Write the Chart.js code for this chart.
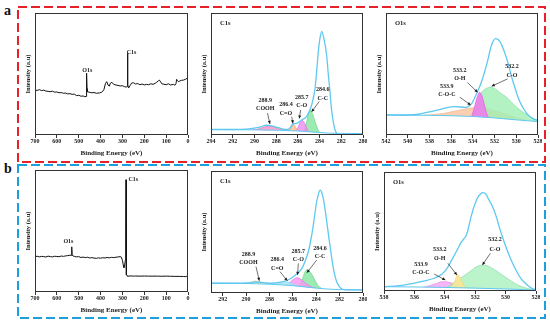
<!DOCTYPE html>
<html>
<head>
<title>XPS spectra</title>
<script src="https://cdn.jsdelivr.net/npm/chart.js"></script>
<style>
	body { margin: 0; width: 550px; height: 325px; position: relative; overflow: hidden; background: #fff; font-family: "Liberation Serif", serif; }
	canvas { position: absolute; }
	.tag { position: absolute; font-weight: bold; font-size: 14px; color: #111; }
</style>
</head>
<body>
<svg width="550" height="325" style="position:absolute;left:0;top:0">
	<rect x="18" y="7" width="527" height="155" fill="none" stroke="#e8202a" stroke-width="2" stroke-dasharray="9,4"/>
	<rect x="18" y="165" width="527" height="153" fill="none" stroke="#1ca0dc" stroke-width="2" stroke-dasharray="9,4"/>
</svg>
<div class="tag" style="left:4px;top:3px">a</div>
<div class="tag" style="left:4px;top:161px">b</div>
<canvas id="c1"></canvas>
<canvas id="c2"></canvas>
<canvas id="c3"></canvas>
<canvas id="c4"></canvas>
<canvas id="c5"></canvas>
<canvas id="c6"></canvas>
<script>
// survey spectra [binding energy, intensity %]
const surveyA = [[700,37],[690,36.5],[680,37.2],[670,36.4],[660,36.8],[650,36],[640,35.8],[631,35.5],[620,35.9],[610,35.1],[600,35.3],[590,34.6],[580,34.8],[570,34.2],[560,34.4],[550,33.7],[540,33.9],[530,33.3],[520,33.5],[509,32.2],[500,32.6],[490,31.8],[480,32],[472,31.4],[466,31.6],[464,50.6],[462,38],[461,35.5],[450,35],[440,34.6],[430,34.8],[418,34.2],[405,34.5],[395,35],[385,37],[378,42],[372,43.7],[366,41],[360,40],[355,42.5],[348,43.2],[340,41.5],[330,41],[320,40.6],[310,40.2],[300,40.4],[290,39.6],[282,39.2],[279,40],[277,67],[275,41],[272,38.5],[265,40.5],[258,42.5],[250,42.9],[240,41.8],[230,42.2],[220,41.2],[210,41.8],[200,41],[189,41.5],[180,41.2],[170,42],[160,41.5],[150,42.4],[143,43.2],[135,44.5],[131,45],[125,43.5],[120,42],[110,41.6],[100,41.2],[90,42],[80,41],[67,41.5],[60,40.8],[55,42],[52,45.6],[48,44.5],[44,43.7],[38,44.2],[30,44.8],[21,45],[10,45.8],[0,47]];
const surveyB = [[700,29],[690,29.3],[680,28.8],[670,29.2],[660,29],[650,28.7],[640,29.4],[630,29],[620,28.8],[610,29.3],[600,29.1],[590,28.9],[580,29.5],[570,29.2],[560,29.6],[550,29.8],[540,30.2],[535,30],[532,37],[530,30.5],[526,29.5],[520,29.2],[510,28.8],[500,29],[490,28.3],[480,28.6],[470,28.2],[460,28.5],[450,27.9],[440,28.2],[430,27.8],[418,27.6],[410,28],[400,27.7],[390,28.1],[380,27.9],[370,28.3],[360,28],[350,28.4],[340,28.2],[330,28.5],[320,28.7],[311,29],[305,28.6],[300,26],[296,22],[293,20],[290,21.5],[287,26],[285,40],[283.5,92],[282,14],[279,13.3],[276,13],[270,13],[260,13.2],[250,13],[240,13.1],[220,13],[200,13.1],[180,13],[160,13],[140,13],[120,12.9],[100,13],[80,12.9],[60,12.8],[40,12.8],[20,12.7],[10,12.6],[6,13],[3,12],[0,11.7]];

// C1s, sample a
const c1sAEnv = [[294,4.5],[292,4.5],[290.5,5],[289.5,6.5],[288.9,8],[288.4,7.5],[287.8,6],[287.2,4.5],[286.9,4.5],[286.7,6],[286.5,8.7],[286.1,9.6],[285.65,12.3],[285.2,15],[284.73,24.6],[284.42,38],[284.27,52],[284.12,68],[283.95,80],[283.8,85],[283.6,79],[283.35,65.6],[283.2,50],[283.04,35.5],[282.9,21],[282.74,11],[282.6,5],[282.43,1.4],[282.2,0.2],[280,0]];
const c1sABg = [[294,4.5],[290,4.2],[288,3.9],[286,3.3],[285,2.7],[284,2],[283,1.5],[282,1.3],[280,1.2]];
const c1sACOOH = [[290.2,4.2],[289.7,4.8],[289.3,6],[288.9,7],[288.6,7.3],[288.3,6.8],[287.9,5.5],[287.5,4.4],[287.2,3.9]];
const c1sACeqO = [[286.9,3.6],[286.7,5],[286.5,8],[286.35,8.5],[286.2,6],[286.0,3.4]];
const c1sACO = [[286.3,3.3],[286.0,6],[285.8,10],[285.6,12],[285.4,10],[285.2,6],[285.0,3],[284.8,2.6]];
const c1sACC = [[285.4,3],[285.2,10],[285.0,18],[284.85,20.5],[284.6,16],[284.35,9],[284.1,3.5],[283.9,2]];

// O1s, sample a
const o1sAEnv = [[542,16.4],[540,16.4],[539,17],[538,19],[537,21],[536.4,22.5],[535.65,23.2],[534.7,22.7],[534.1,26],[533.65,34],[533.2,43.7],[532.7,58.7],[532.27,74],[531.9,79],[531.5,76.5],[530.9,63],[530.3,43.7],[529.66,27],[529.04,17.8],[528.4,13],[528,12.3]];
const o1sABg = [[542,16.4],[538,16.1],[536,15.8],[534,15.2],[532,14],[530,12.4],[528,11]];
const o1sACOC = [[538.5,16.2],[537.5,16.8],[536.5,18],[535.5,19.8],[534.6,21.6],[533.8,22.4],[533,22],[532.2,20.5],[531.3,18],[530.4,15.3],[529.5,13],[528.7,11.7],[528,11]];
const o1sAOH = [[534.1,16],[533.9,21],[533.7,28],[533.5,33.5],[533.4,35],[533.2,33],[533.0,27],[532.8,20],[532.6,15],[532.4,14.2]];
const o1sACO = [[534.0,15.2],[533.7,20],[533.5,30],[533.2,35],[532.8,38],[532.3,39],[531.9,37.5],[531.4,34],[530.9,31],[530.3,25.5],[529.66,20.5],[529,16.5],[528.4,13.2],[528,11.8]];

// C1s, sample b
const c1sBEnv = [[293,8],[291.5,8],[290.66,8],[290,8.2],[289.5,8.7],[289.24,9],[288.8,8.8],[288.3,8.2],[287.8,8],[287.2,8.6],[286.67,9.8],[286.3,11.3],[285.96,13.4],[285.6,16.2],[285.24,20],[284.95,26],[284.67,34],[284.45,44],[284.25,55.7],[284.1,66],[283.96,75],[283.8,81.5],[283.68,84.4],[283.55,83],[283.4,77.6],[283.25,69],[283.1,58.5],[282.9,44],[282.67,28.4],[282.45,16],[282.25,9.3],[282.0,5],[281.8,3.3],[281.3,2.6],[280,2.5]];
const c1sBBg = [[293,8],[290,7.8],[288,7.2],[286,6],[285,5],[284,4],[283,3.2],[282,2.8],[280,2.5]];
const c1sBCOOH = [[290.0,7.9],[289.7,8.4],[289.45,9.3],[289.24,9.8],[289.0,9.5],[288.7,8.8],[288.4,7.9],[288.1,7.3]];
const c1sBCeqO = [[287.4,7],[287.0,7.8],[286.7,8.6],[286.45,9],[286.2,8.2],[285.9,6.8],[285.6,5.9]];
const c1sBCO = [[286.7,6.4],[286.4,7.8],[286.1,10],[285.85,11.8],[285.67,12.5],[285.45,12],[285.2,10.4],[284.9,8],[284.6,6],[284.3,4.6],[284.0,4]];
const c1sBCC = [[285.5,5.6],[285.3,8],[285.1,13.5],[284.95,17.5],[284.8,19],[284.6,18],[284.4,15.5],[284.2,12],[284.0,8.5],[283.8,5.5],[283.55,3.8]];

// O1s, sample b
const o1sBEnv = [[538,3.6],[537,4.5],[536.06,6.5],[535.4,8.3],[534.7,10.7],[534.2,14],[533.85,19],[533.5,27],[533.3,31.7],[533.1,36.5],[532.97,40],[532.8,43],[532.64,45.6],[532.5,50],[532.3,61],[532.1,70],[531.86,78],[531.65,81.5],[531.5,82.6],[531.3,81.5],[531.2,79],[530.9,72],[530.65,64],[530.4,53],[530.1,41.4],[529.8,31],[529.54,23.3],[529.25,16],[529.0,10.7],[528.7,6.5],[528.44,3.6],[528.2,1.8],[528,0.8]];
const o1sBBg = [[538,3.6],[536,3.4],[534,3],[532,2.4],[530,1.7],[528,0.8]];
const o1sBCOC = [[535.4,3.2],[535.0,4.5],[534.6,6],[534.2,7.8],[533.8,7.5],[533.4,6],[533,4.2],[532.5,2.8]];
const o1sBOH = [[533.6,3],[533.35,8],[533.15,14],[532.95,10],[532.8,6],[532.6,2.6]];
const o1sBCO = [[533.9,2.9],[533.5,6],[533.2,9],[532.97,10.7],[532.6,14],[532.3,16.8],[531.9,20.5],[531.4,21.8],[531.0,20],[530.5,16],[530.0,11.5],[529.4,6.5],[529.0,4],[528.5,2],[528,1]];

const c1sBTicks = [280, 282, 284, 286, 288, 290, 292];

const YW = 15, XH = 26, PT = 4, PR = 4;
const FONT = '"Liberation Serif", serif';
const ENV = 'rgb(95,200,240)';

Chart.defaults.font.family = FONT;
Chart.defaults.color = '#222';

function pts(a) { return a.map(p => ({ x: p[0], y: p[1] })); }

function arrow(ctx, x1, y1, x2, y2) {
	ctx.beginPath(); ctx.moveTo(x1, y1); ctx.lineTo(x2, y2); ctx.stroke();
	const ang = Math.atan2(y2 - y1, x2 - x1);
	ctx.beginPath();
	ctx.moveTo(x2, y2);
	ctx.lineTo(x2 - 3.5 * Math.cos(ang - 0.45), y2 - 3.5 * Math.sin(ang - 0.45));
	ctx.lineTo(x2 - 3.5 * Math.cos(ang + 0.45), y2 - 3.5 * Math.sin(ang + 0.45));
	ctx.closePath(); ctx.fill();
}

// frame box + peak labels
function marks(title, notes) {
	return {
		id: 'marks',
		afterDraw(chart) {
			const { ctx, chartArea: a, scales: { x, y } } = chart;
			ctx.save();
			ctx.strokeStyle = '#333'; ctx.lineWidth = 1;
			ctx.strokeRect(a.left + 0.5, a.top + 0.5, a.width - 1, a.height - 1);
			ctx.fillStyle = '#1a1a1a';
			ctx.textBaseline = 'middle';
			if (title) {
				ctx.textAlign = 'left';
				ctx.font = 'bold 6.5px ' + FONT;
				ctx.fillText(title, a.left + 9, a.top + 10);
			}
			ctx.textAlign = 'center';
			ctx.font = 'bold 6px ' + FONT;
			ctx.strokeStyle = '#333'; ctx.lineWidth = 0.7;
			notes.forEach(n => {
				n.t.forEach((s, i) => ctx.fillText(s, x.getPixelForValue(n.x), y.getPixelForValue(n.y[i])));
				if (n.a) arrow(ctx, x.getPixelForValue(n.a[0]), y.getPixelForValue(n.a[1]), x.getPixelForValue(n.a[2]), y.getPixelForValue(n.a[3]));
			});
			ctx.restore();
		}
	};
}

function scales(min, max, step, list) {
	return {
		x: {
			type: 'linear', reverse: true, min: min, max: max,
			ticks: { stepSize: step, font: { size: 6, weight: 'bold' }, padding: 0, maxRotation: 0, autoSkip: false },
			grid: { drawOnChartArea: false, tickLength: 3, color: '#333' },
			border: { display: false },
			title: { display: true, text: 'Binding Energy (eV)', font: { size: 7, weight: 'bold' }, padding: { top: 0, bottom: 4 } },
			afterBuildTicks: list ? s => { s.ticks = list.map(v => ({ value: v })); } : undefined,
			afterFit: s => { s.height = XH; s.paddingLeft = 0; s.paddingRight = 0; }
		},
		y: {
			min: 0, max: 100,
			ticks: { display: false },
			grid: { display: false },
			border: { display: false },
			title: { display: true, text: 'Intensity (a.u)', font: { size: 6.5, weight: 'bold' }, padding: { top: 4, bottom: 0 } },
			afterFit: s => { s.width = YW; s.paddingTop = 0; s.paddingBottom = 0; }
		}
	};
}

function line(data, color, width) {
	return { data: pts(data), borderColor: color, borderWidth: width, pointRadius: 0, fill: false, tension: 0 };
}
function smooth(data, color, width) {
	return { data: pts(data), borderColor: color, borderWidth: width, pointRadius: 0, fill: false, cubicInterpolationMode: 'monotone' };
}
function bg(data) {
	return { data: pts(data), borderColor: ENV, borderWidth: 1, pointRadius: 0, fill: 'origin', backgroundColor: '#fff', cubicInterpolationMode: 'monotone' };
}
function peak(data, fillCol, lineCol) {
	return { data: pts(data), borderColor: lineCol, borderWidth: 0.8, pointRadius: 0, fill: 'origin', backgroundColor: fillCol, cubicInterpolationMode: 'monotone' };
}

function makeChart(id, rect, datasets, sc, title, notes) {
	const c = document.getElementById(id);
	const [L, T, R, B] = rect;
	c.width = R - L + YW + PR;
	c.height = B - T + PT + XH;
	c.style.left = (L - YW) + 'px';
	c.style.top = (T - PT) + 'px';
	return new Chart(c, {
		type: 'line',
		data: { datasets: datasets },
		options: {
			responsive: false, animation: false,
			layout: { padding: { top: PT, right: PR, left: 0, bottom: 0 } },
			plugins: { legend: { display: false }, tooltip: { enabled: false } },
			scales: sc
		},
		plugins: [marks(title, notes)]
	});
}

makeChart('c1', [35, 13, 188, 135], [line(surveyA, '#111', 1)], scales(0, 700, 100), null, [
	{ t: ['O1s'], x: 461, y: [52.7] },
	{ t: ['C1s'], x: 258, y: [68] }
]);

makeChart('c2', [211, 13, 363, 135], [
	smooth(c1sAEnv, ENV, 1.3),
	bg(c1sABg),
	peak(c1sACOOH, 'rgba(240,150,200,0.8)', 'rgb(230,130,190)'),
	peak(c1sACeqO, 'rgba(250,190,150,0.85)', 'rgb(240,170,130)'),
	peak(c1sACO, 'rgba(240,140,240,0.8)', 'rgb(225,120,230)'),
	peak(c1sACC, 'rgba(130,230,160,0.8)', 'rgb(110,215,140)')
], scales(280, 294, 2), 'C1s', [
	{ t: ['288.9', 'COOH'], x: 289.0, y: [28, 21.5], a: [288.8, 18, 288.57, 9] },
	{ t: ['286.4', 'C=O'], x: 287.1, y: [25, 18], a: [286.57, 15, 286.45, 9.5] },
	{ t: ['285.7', 'C-O'], x: 285.65, y: [31, 24], a: [285.74, 20.5, 285.87, 13.5] },
	{ t: ['284.6', 'C-C'], x: 283.7, y: [37.5, 30], a: [284.03, 27.5, 284.73, 19] }
]);

makeChart('c3', [386, 13, 538, 135], [
	smooth(o1sAEnv, ENV, 1.3),
	bg(o1sABg),
	peak(o1sAOH, 'rgba(240,120,240,0.85)', 'rgb(225,100,225)'),
	peak(o1sACO, 'rgba(160,240,180,0.8)', 'rgb(140,225,165)'),
	peak(o1sACOC, 'rgba(250,200,165,0.85)', 'rgb(240,185,150)')
], scales(528, 542, 2), 'O1s', [
	{ t: ['533.2', 'O-H'], x: 535.2, y: [53, 46], a: [534.5, 43, 533.56, 35] },
	{ t: ['533.9', 'C-O-C'], x: 536.4, y: [40, 33], a: [535.2, 31, 534.2, 24.5] },
	{ t: ['532.2', 'C-O'], x: 530.4, y: [56.5, 49], a: [530.8, 46, 532.27, 40] }
]);

makeChart('c4', [35, 170, 188, 292], [line(surveyB, '#111', 1)], scales(0, 700, 100), null, [
	{ t: ['O1s'], x: 547, y: [41.8] },
	{ t: ['C1s'], x: 250, y: [92.6] }
]);

makeChart('c5', [211, 171, 363, 293], [
	smooth(c1sBEnv, ENV, 1.3),
	bg(c1sBBg),
	peak(c1sBCOOH, 'rgba(250,235,160,0.85)', 'rgb(240,220,140)'),
	peak(c1sBCeqO, 'rgba(170,235,245,0.85)', 'rgb(140,220,240)'),
	peak(c1sBCO, 'rgba(245,150,240,0.8)', 'rgb(230,130,230)'),
	peak(c1sBCC, 'rgba(130,230,160,0.8)', 'rgb(110,215,140)')
], scales(280, 293, 2, c1sBTicks), 'C1s', [
	{ t: ['288.9', 'COOH'], x: 289.8, y: [32, 25], a: [289.15, 21.6, 288.87, 10] },
	{ t: ['286.4', 'C=O'], x: 287.33, y: [27.6, 20.5], a: [287.1, 17.5, 286.47, 10] },
	{ t: ['285.7', 'C-O'], x: 285.53, y: [34, 27.6], a: [285.53, 24.3, 285.6, 14.8] },
	{ t: ['284.6', 'C-C'], x: 283.68, y: [36.6, 30], a: [283.96, 27, 284.8, 16.6] }
]);

makeChart('c6', [384, 172, 536, 291], [
	smooth(o1sBEnv, ENV, 1.3),
	bg(o1sBBg),
	peak(o1sBOH, 'rgba(250,230,150,0.9)', 'rgb(240,215,130)'),
	peak(o1sBCO, 'rgba(170,240,190,0.8)', 'rgb(150,225,175)'),
	peak(o1sBCOC, 'rgba(245,170,245,0.85)', 'rgb(230,150,230)')
], scales(528, 538, 2), 'O1s', [
	{ t: ['533.2', 'O-H'], x: 534.34, y: [34.5, 27.5], a: [533.8, 23.3, 533.2, 13.4] },
	{ t: ['533.9', 'C-O-C'], x: 535.57, y: [22.7, 15.4], a: [534.7, 14.3, 533.96, 9.2] },
	{ t: ['532.2', 'C-O'], x: 530.7, y: [43, 35.3], a: [531.0, 31.7, 531.53, 21.8] }
]);
</script>
</body>
</html>
